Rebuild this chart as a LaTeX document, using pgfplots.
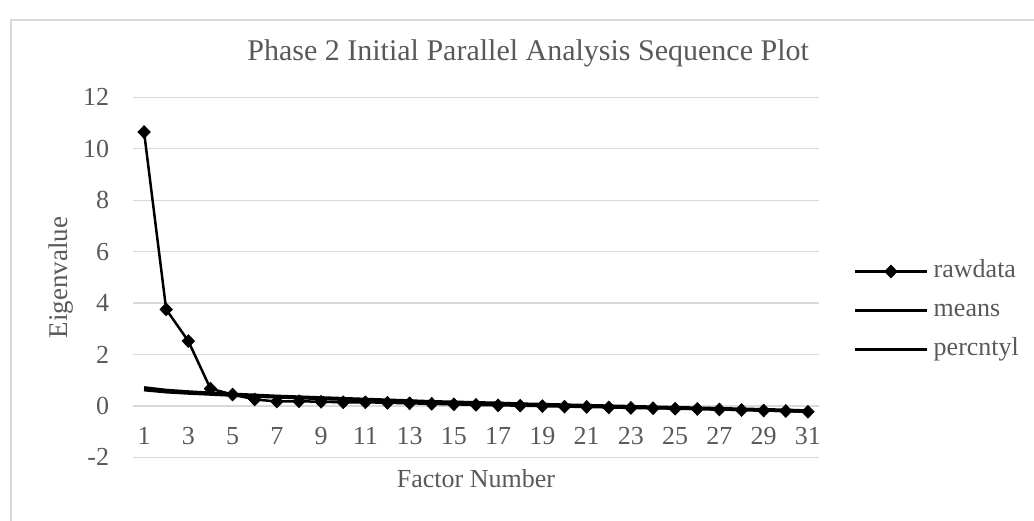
\documentclass[border=0pt]{standalone}
\usepackage{fontspec}
\setmainfont{Liberation Serif}
\usepackage{pgfplots}
\pgfplotsset{compat=1.18}
\definecolor{txt}{HTML}{595959}
\definecolor{gridc}{HTML}{D9D9D9}
\begin{document}
\begin{tikzpicture}
\path[use as bounding box] (0,0) rectangle (1034pt,520pt);
\draw[gridc, line width=1.5pt] (11pt,-5pt) -- (11pt,500pt) -- (1040pt,500pt);
\begin{axis}[
  at={(133pt,62.7pt)}, anchor=south west,
  scale only axis, width=686pt, height=360pt,
  xmin=0.5, xmax=31.5, ymin=-2, ymax=12,
  xtick={1,3,...,31}, ytick={-2,0,...,12},
  /pgf/number format/assume math mode=true,
  axis line style={draw=none},
  major tick length=0pt,
  ymajorgrids, grid style={gridc, line width=1.3pt},
  tick label style={font=\fontsize{26}{30}\selectfont, text=txt},
  x tick label style={anchor=north, inner sep=0pt, yshift=30.3pt},
  y tick label style={anchor=east, inner sep=0pt, xshift=-23.7pt},
  title={Phase 2 Initial Parallel Analysis Sequence Plot},
  title style={at={(axis description cs:0.576,1)}, anchor=base, yshift=31pt, inner sep=0pt,
    font=\fontsize{30}{34}\selectfont, text=txt},
  xlabel={Factor Number},
  xlabel style={at={(axis description cs:0.5,0)}, anchor=base, yshift=-30pt, inner sep=0pt,
    font=\fontsize{26}{30}\selectfont, text=txt},
  ylabel={Eigenvalue},
  ylabel style={at={(axis description cs:-0.105,0.5)}, anchor=center, inner sep=0pt,
    font=\fontsize{27}{30}\selectfont, text=txt},
  legend style={at={(axis description cs:1.0496,0.55)}, anchor=north west, draw=none, fill=none,
    inner sep=0pt, font=\fontsize{26}{30}\selectfont, text=txt, row sep=15pt,
    nodes={inner sep=0pt, text height=18pt, text depth=6pt},
    /tikz/every odd column/.style={column sep=5pt}},
  legend cell align=left,
  legend image code/.code={\draw[mark repeat=2,mark phase=2,#1] plot coordinates {(0pt,0pt) (36pt,0pt) (72pt,0pt)};},
]
\addplot[black, line width=2.5pt, mark=diamond*, mark size=6.5pt,
  mark options={solid, line width=0.5pt, xscale=1.3}] coordinates {
(1,10.65) (2,3.75) (3,2.52) (4,0.67) (5,0.44) (6,0.25) (7,0.17) (8,0.18) (9,0.16) (10,0.14)
(11,0.14) (12,0.12) (13,0.10) (14,0.08) (15,0.06) (16,0.04) (17,0.02) (18,0.01) (19,-0.01) (20,-0.03)
(21,-0.04) (22,-0.06) (23,-0.08) (24,-0.09) (25,-0.11) (26,-0.12) (27,-0.14) (28,-0.16) (29,-0.18) (30,-0.20) (31,-0.23)};
\addlegendentry{rawdata}
\addplot[black, line width=3pt, no marks] coordinates {
(1,0.62) (2,0.54) (3,0.49) (4,0.45) (5,0.41) (6,0.37) (7,0.34) (8,0.31) (9,0.28) (10,0.25)
(11,0.22) (12,0.19) (13,0.16) (14,0.14) (15,0.11) (16,0.09) (17,0.07) (18,0.05) (19,0.03) (20,0.01)
(21,-0.01) (22,-0.03) (23,-0.05) (24,-0.07) (25,-0.09) (26,-0.11) (27,-0.13) (28,-0.15) (29,-0.17) (30,-0.19) (31,-0.22)};
\addlegendentry{means}
\addplot[black, line width=3.5pt, no marks] coordinates {
(1,0.70) (2,0.60) (3,0.54) (4,0.49) (5,0.45) (6,0.41) (7,0.37) (8,0.34) (9,0.31) (10,0.28)
(11,0.25) (12,0.22) (13,0.19) (14,0.16) (15,0.14) (16,0.12) (17,0.10) (18,0.07) (19,0.05) (20,0.03)
(21,0.01) (22,-0.01) (23,-0.03) (24,-0.05) (25,-0.07) (26,-0.09) (27,-0.11) (28,-0.13) (29,-0.15) (30,-0.17) (31,-0.20)};
\addlegendentry{percntyl}
\end{axis}
\end{tikzpicture}
\end{document}
